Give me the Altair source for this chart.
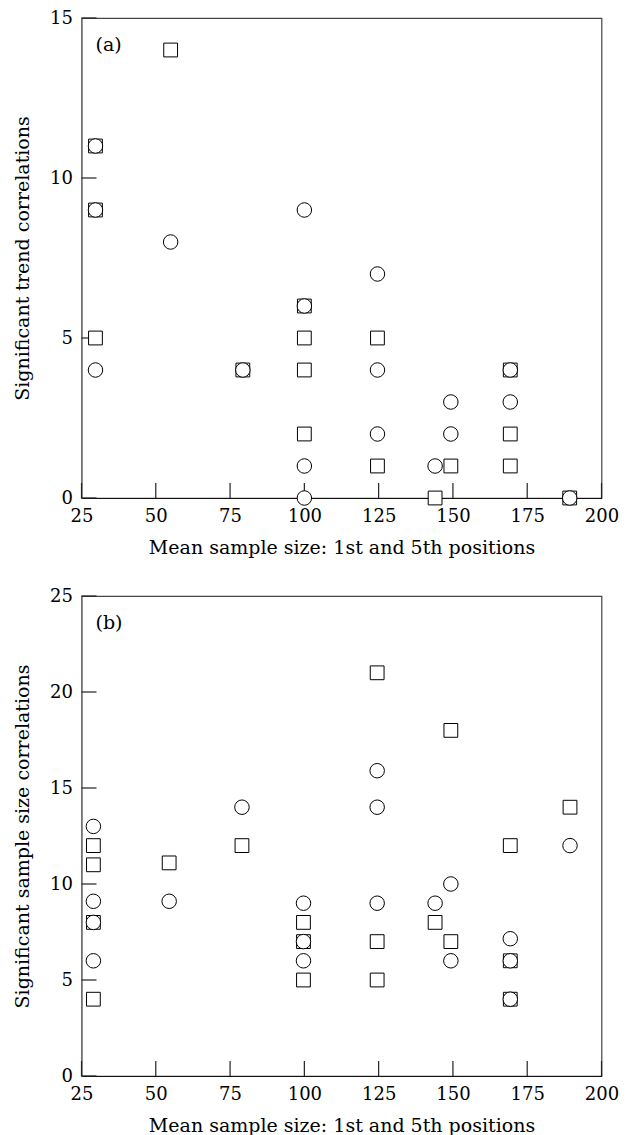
import altair as alt
import pandas as pd

# ---------------- data ----------------
x_ticks = [25, 50, 75, 100, 125, 150, 175, 200]

# panel (a): significant trend correlations
a_sq_x = [29.7, 29.7, 29.7, 55, 79.3, 100, 100, 100, 100, 124.6, 124.6, 144, 149.3, 169.3, 169.3, 169.3, 189.3]
a_sq_y = [11, 9, 5, 14, 4, 6, 5, 4, 2, 5, 1, 0, 1, 4, 2, 1, 0]
a_ci_x = [29.7, 29.7, 29.7, 55, 79.3, 100, 100, 100, 100, 124.6, 124.6, 124.6, 144, 149.3, 149.3, 169.3, 169.3, 189.3]
a_ci_y = [11, 9, 4, 8, 4, 9, 6, 1, 0, 7, 4, 2, 1, 3, 2, 4, 3, 0]
a_y_ticks = [0, 5, 10, 15]

# panel (b): significant sample size correlations
b_sq_x = [29, 29, 29, 29, 54.5, 79, 99.7, 99.7, 99.7, 124.5, 124.5, 124.5, 144, 149.3, 149.3, 169.3, 169.3, 169.3, 189.4]
b_sq_y = [12, 11, 8, 4, 11.1, 12, 8, 7, 5, 21, 7, 5, 8, 18, 7, 12, 6, 4, 14]
b_ci_x = [29, 29, 29, 29, 54.5, 79, 99.7, 99.7, 99.7, 124.5, 124.5, 124.5, 144, 149.3, 149.3, 169.3, 169.3, 169.3, 189.4]
b_ci_y = [13, 9.1, 8, 6, 9.1, 14, 9, 7, 6, 15.9, 14, 9, 9, 10, 6, 7.15, 6, 4, 12]
b_y_ticks = [0, 5, 10, 15, 20, 25]

X_TITLE = "Mean sample size: 1st and 5th positions"
FONT = "DejaVu Serif"
W, H = 520, 480
TICK = 15  # inward tick length in pixels
X_MIN, X_MAX = 25, 200


def panel(sq_x, sq_y, ci_x, ci_y, y_ticks, y_title, label):
    y_max = max(y_ticks)
    xscale = alt.Scale(domain=[X_MIN, X_MAX], nice=False, zero=False)
    yscale = alt.Scale(domain=[0, y_max], nice=False, zero=True)
    xaxis = alt.Axis(values=x_ticks, title=X_TITLE, ticks=False, tickSize=0,
                     tickOpacity=0, labelFlush=False, labelPadding=9,
                     titlePadding=13, grid=False,
                     domainColor="#111", domainWidth=1.2)
    yaxis = alt.Axis(values=y_ticks, title=y_title, ticks=False, tickSize=0,
                     tickOpacity=0, labelFlush=False, labelPadding=9,
                     titlePadding=17.5, grid=False,
                     domainColor="#777", domainWidth=1.2)
    xenc = alt.X("x:Q", scale=xscale, axis=xaxis)
    yenc = alt.Y("y:Q", scale=yscale, axis=yaxis)

    dx = TICK * (X_MAX - X_MIN) / W
    dy = TICK * y_max / H
    ytick_df = pd.DataFrame({"y": y_ticks, "x": [X_MIN] * len(y_ticks),
                             "x2": [X_MIN + dx] * len(y_ticks)})
    xtick_df = pd.DataFrame({"x": x_ticks, "y": [0] * len(x_ticks),
                             "y2": [dy] * len(x_ticks)})

    ytick = alt.Chart(ytick_df).mark_rule(color="#222", strokeWidth=1.2).encode(
        x=xenc, x2="x2:Q", y=yenc)
    xtick = alt.Chart(xtick_df).mark_rule(color="#222", strokeWidth=1.2).encode(
        x=xenc, y=yenc, y2="y2:Q")
    sq = alt.Chart(pd.DataFrame({"x": sq_x, "y": sq_y})).mark_point(
        shape="square", filled=True, fill="white", stroke="black",
        strokeWidth=1, size=190, opacity=1
    ).encode(x=xenc, y=yenc)
    ci = alt.Chart(pd.DataFrame({"x": ci_x, "y": ci_y})).mark_point(
        shape="circle", filled=True, fill="white", stroke="black",
        strokeWidth=1, size=210, opacity=1
    ).encode(x=xenc, y=yenc)
    txt = alt.Chart(pd.DataFrame({"t": [label]})).mark_text(
        align="left", baseline="middle", font=FONT, fontSize=19, color="black"
    ).encode(x=alt.value(14), y=alt.value(27), text="t:N")
    return alt.layer(ytick, xtick, sq, ci, txt).properties(width=W, height=H)


pa = panel(a_sq_x, a_sq_y, a_ci_x, a_ci_y, a_y_ticks, "Significant trend correlations", "(a)")
pb = panel(b_sq_x, b_sq_y, b_ci_x, b_ci_y, b_y_ticks, "Significant sample size correlations", "(b)")

chart = alt.vconcat(pa, pb, spacing=28).properties(
    padding={"left": 3.5, "top": 0, "right": 5, "bottom": 0}
).configure(font=FONT, background="white").configure_view(
    stroke="#444", strokeWidth=1.2
).configure_axis(
    labelFont=FONT, titleFont=FONT, labelFontSize=18, titleFontSize=19,
    titleFontWeight="normal", labelColor="black", titleColor="black",
)

chart.save("out.html", embed_options={"renderer": "svg", "actions": False})
